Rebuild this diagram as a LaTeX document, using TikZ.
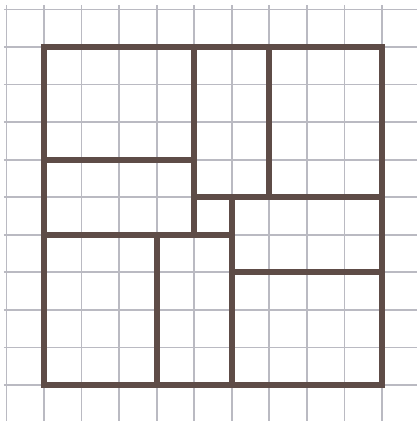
\documentclass[tikz,border=0pt]{standalone}
\usepackage{tikz}
\definecolor{gridgray}{RGB}{186,186,194}
\definecolor{wallbrown}{RGB}{94,76,71}
\tikzset{
  gridline/.style={draw=gridgray, line width=1.3pt},
  wall/.style={draw=wallbrown, line width=4.4pt, line cap=rect, line join=miter},
}

\begin{document}
\begin{tikzpicture}[x=1cm, y=1cm]
  \useasboundingbox (-1.172,-0.959) rectangle (9.933,10.253);
  \fill[white] (-1.172,-0.959) rectangle (9.933,10.253);

  % square grid
  \foreach \i in {-1,...,9} {
    \draw[gridline] (\i,-0.959) -- (\i,10.12);
  }
  \foreach \j in {0,...,10} {
    \draw[gridline] (-1.07,\j) -- (9.933,\j);
  }

  % outer frame and dividing walls
  \draw[wall] (0,0) rectangle (9,9);
  \draw[wall] (4,9) -- (4,4);
  \draw[wall] (0,6) -- (4,6);
  \draw[wall] (6,9) -- (6,5);
  \draw[wall] (4,5) -- (9,5);
  \draw[wall] (5,5) -- (5,0);
  \draw[wall] (0,4) -- (5,4);
  \draw[wall] (3,4) -- (3,0);
  \draw[wall] (5,3) -- (9,3);
\end{tikzpicture}
\end{document}
